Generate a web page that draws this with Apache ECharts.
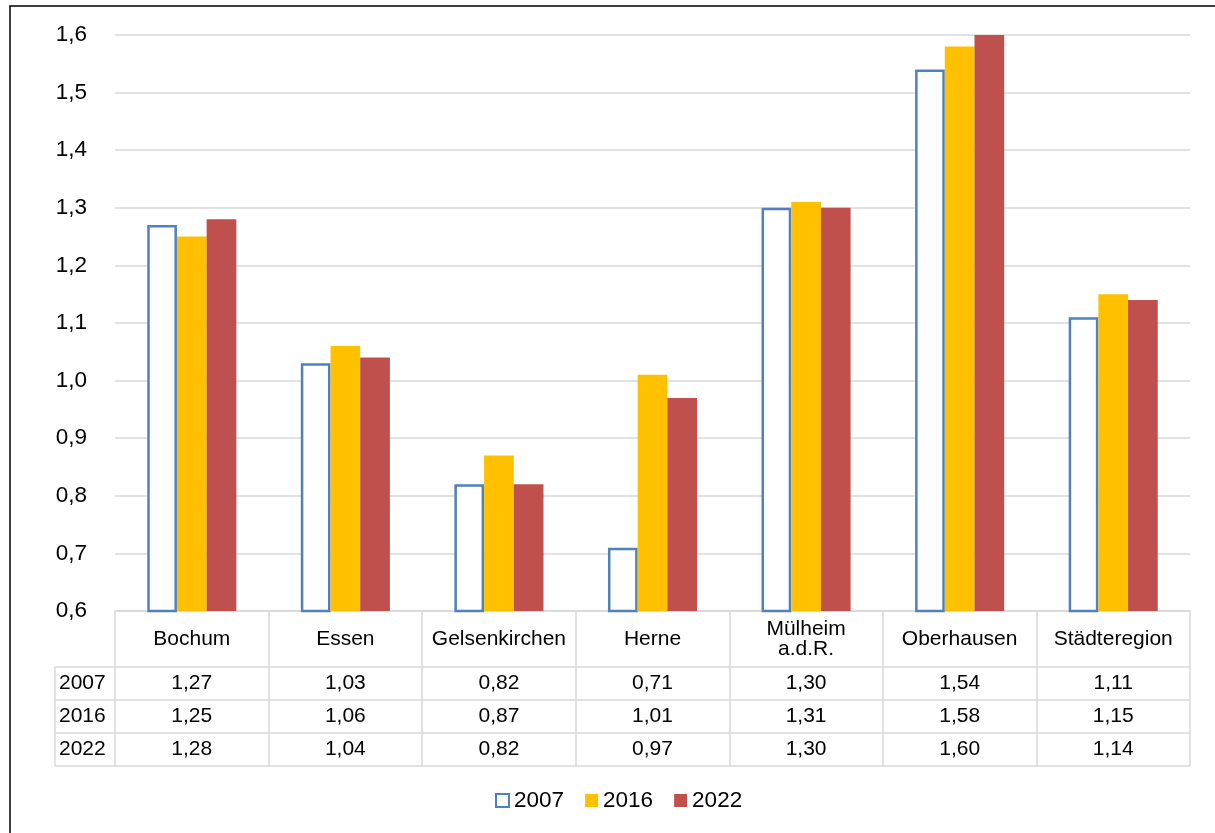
<!DOCTYPE html>
<html>
<head>
<meta charset="utf-8">
<script src="https://cdn.jsdelivr.net/npm/echarts@6/dist/echarts.min.js"></script>
<style>
  html, body { margin: 0; padding: 0; background: #fff; }
  #chart { width: 1215px; height: 833px; }
</style>
</head>
<body>
<div id="chart"></div>
<script>
// Städte und Werte (aus der Datentabelle)
var categories = ["Bochum", "Essen", "Gelsenkirchen", "Herne", "Mülheim\na.d.R.", "Oberhausen", "Städteregion"];
var years = ["2007", "2016", "2022"];
var values2007 = [1.27, 1.03, 0.82, 0.71, 1.30, 1.54, 1.11];
var values2016 = [1.25, 1.06, 0.87, 1.01, 1.31, 1.58, 1.15];
var values2022 = [1.28, 1.04, 0.82, 0.97, 1.30, 1.60, 1.14];
var yTicks = { min: 0.6, max: 1.6, interval: 0.1 };

var font = "Liberation Sans, Arial, sans-serif";
var lineColor = "#d9d9d9";
var rows = [values2007, values2016, values2022];

function de(v, d) {
	return v.toFixed(d).replace(".", ",");
}

// Layout der Tabelle unter dem Diagramm
var gridLeft = 115, gridRight = 25, gridTop = 35, gridBottom = 222;
var axisY = 833 - gridBottom;     // 611
var headerH = 56, rowH = 33;
var labelColLeft = 55;
var tableFont = 21;

var myChart = echarts.init(document.getElementById("chart"));
myChart.setOption({
	animation: false,
	backgroundColor: "#fff",
	textStyle: { fontFamily: font },
	grid: { left: gridLeft, right: gridRight, top: gridTop, bottom: gridBottom, containLabel: false },
	legend: {
		data: years,
		bottom: 16,
		left: 490,
		itemWidth: 13,
		itemHeight: 13,
		itemGap: 21,
		icon: "rect",
		textStyle: { fontSize: 22.5, color: "#000", fontFamily: font }
	},
	xAxis: {
		type: "category",
		data: categories,
		axisLine: { show: true, lineStyle: { color: lineColor, width: 1.5 } },
		axisTick: {
			show: true,
			interval: 0,
			length: headerH + rowH * 3,
			lineStyle: { color: lineColor, width: 1.5 }
		},
		axisLabel: {
			interval: 0,
			margin: 28,
			verticalAlign: "middle",
			fontSize: tableFont,
			lineHeight: 20,
			color: "#000",
			fontFamily: font
		}
	},
	yAxis: {
		type: "value",
		min: yTicks.min,
		max: yTicks.max,
		interval: yTicks.interval,
		axisLine: { show: false },
		axisTick: { show: false },
		axisLabel: {
			margin: 28,
			fontSize: 22.5,
			color: "#000",
			fontFamily: font,
			formatter: function (v) { return de(v, 1); }
		},
		splitLine: { lineStyle: { color: lineColor, width: 1.5 } }
	},
	series: [
		{
			name: years[0],
			type: "bar",
			data: values2007,
			barGap: "0%",
			barCategoryGap: "42%",
			itemStyle: { color: "#fff", borderColor: "#4f81bd", borderWidth: 2.5 }
		},
		{
			name: years[1],
			type: "bar",
			data: values2016,
			barGap: "0%",
			barCategoryGap: "42%",
			itemStyle: { color: "#ffc000" }
		},
		{
			name: years[2],
			type: "bar",
			data: values2022,
			barGap: "0%",
			barCategoryGap: "42%",
			itemStyle: { color: "#c0504d" }
		}
	]
});

// Datentabelle: Linien und Werte
var gridR = 1215 - gridRight;
var graphics = [];
// Rahmen
graphics.push({
	type: "rect",
	shape: { x: 10, y: 6, width: 1250, height: 900 },
	style: { fill: null, stroke: "#000", lineWidth: 1.5 },
	silent: true
});
for (var r = 0; r <= rows.length; r++) {
	var y = axisY + headerH + r * rowH;
	graphics.push({
		type: "line",
		shape: { x1: labelColLeft, y1: y, x2: gridR, y2: y },
		style: { stroke: lineColor, lineWidth: 1.5 },
		silent: true
	});
}
graphics.push({
	type: "line",
	shape: { x1: labelColLeft, y1: axisY + headerH, x2: labelColLeft, y2: axisY + headerH + rowH * rows.length },
	style: { stroke: lineColor, lineWidth: 1.5 },
	silent: true
});
rows.forEach(function (vals, ri) {
	var cy = axisY + headerH + ri * rowH + rowH / 2;
	graphics.push({
		type: "text",
		x: labelColLeft + 4,
		y: cy,
		style: { text: years[ri], fontSize: tableFont, fontFamily: font, fill: "#000", align: "left", verticalAlign: "middle" },
		silent: true
	});
	vals.forEach(function (v, ci) {
		var cx = myChart.convertToPixel({ xAxisIndex: 0 }, categories[ci]);
		graphics.push({
			type: "text",
			x: cx,
			y: cy,
			style: { text: de(v, 2), fontSize: tableFont, fontFamily: font, fill: "#000", align: "center", verticalAlign: "middle" },
			silent: true
		});
	});
});
myChart.setOption({ graphic: graphics });
</script>
</body>
</html>
